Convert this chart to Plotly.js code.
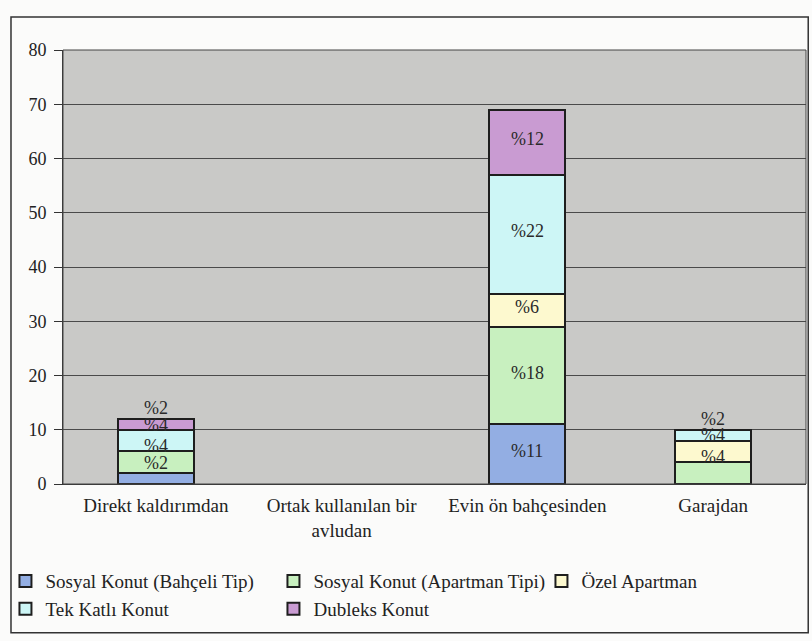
<!DOCTYPE html>
<html>
<head>
<meta charset="utf-8">
<script src="https://cdn.plot.ly/plotly-3.0.1.min.js"></script>
<style>
  html, body { margin: 0; padding: 0; background: #fbfbfa; }
  #chart { width: 812px; height: 641px; }
</style>
</head>
<body>
<div id="chart"></div>
<script>
// Categories (x axis)
const categories = ["Direkt kaldırımdan", "Ortak kullanılan bir<br>avludan", "Evin ön bahçesinden", "Garajdan"];

// Series values
const bahceliTip   = [2, 0, 11, 0];
const apartmanTipi = [4, 0, 18, 4];
const ozelApartman = [0, 0, 6, 4];
const tekKatli     = [4, 0, 22, 2];
const dubleks      = [2, 0, 12, 0];

// Series names
const seriesNames = ["Sosyal Konut (Bahçeli Tip)", "Sosyal Konut (Apartman Tipi)", "Özel Apartman", "Tek Katlı Konut", "Dubleks Konut"];

// Y ticks
const yTicks = [0, 10, 20, 30, 40, 50, 60, 70, 80];

const seriesValues = [bahceliTip, apartmanTipi, ozelApartman, tekKatli, dubleks];
const seriesColors = ["#93aee3", "#c8f0bf", "#fdf9cf", "#cdf6f6", "#c99bd2"];

const FONT = "Liberation Serif, Times New Roman, serif";

const traces = seriesValues.map((vals, i) => ({
  type: "bar",
  name: seriesNames[i],
  x: categories,
  y: vals.map(v => (v === 0 ? null : v)),
  marker: { color: seriesColors[i], line: { color: "#1e1e1e", width: 2 } },
  hoverinfo: "skip"
}));

// Labels computed from data: segment centers
const annotations = [];
categories.forEach((cat, ci) => {
  let base = 0;
  seriesValues.forEach(vals => {
    const v = vals[ci];
    if (v > 0) {
      annotations.push({
        x: cat, y: base + v / 2, xref: "x", yref: "y",
        text: "%" + v, showarrow: false,
        yshift: v < 5 ? 16 : 3,
        font: { family: FONT, size: 18, color: "#2a2a2a" }
      });
    }
    base += v;
  });
});

const layout = {
  width: 812, height: 641,
  margin: { l: 62, r: 6, t: 50, b: 157 },
  paper_bgcolor: "#fbfbfa",
  plot_bgcolor: "#c9c9c7",
  barmode: "stack",
  bargap: 0.59,
  showlegend: true,
  font: { family: FONT, size: 18, color: "#222" },
  xaxis: {
    type: "category",
    tickfont: { family: FONT, size: 19, color: "#222" },
    showgrid: false,
    zeroline: false,
    showline: true, linecolor: "#333", linewidth: 1,
    ticks: "", ticklabelstandoff: 4
  },
  yaxis: {
    range: [0, 80],
    tickvals: yTicks,
    ticktext: yTicks.map(String),
    tickfont: { family: FONT, size: 18, color: "#222" },
    showgrid: true, gridcolor: "#4a4a4a", gridwidth: 1,
    zeroline: false,
    showline: true, linecolor: "#333", linewidth: 1,
    ticks: "outside", ticklen: 8, tickcolor: "#333",
    ticklabelstandoff: 4
  },
  legend: {
    orientation: "h",
    xref: "paper", yref: "paper",
    x: -0.076, y: -0.18, xanchor: "left", yanchor: "top",
    entrywidthmode: "pixels", entrywidth: 223,
    font: { family: FONT, size: 19, color: "#222" },
    bgcolor: "rgba(0,0,0,0)",
    traceorder: "normal"
  },
  annotations: annotations,
  shapes: [
    { type: "rect", xref: "paper", yref: "paper", x0: 0, x1: 1, y0: 0, y1: 1,
      line: { color: "#444", width: 1 }, fillcolor: "rgba(0,0,0,0)", layer: "above" },
    { type: "rect", xref: "paper", yref: "paper", x0: -0.07, x1: 1.003, y0: -0.343, y1: 1.076,
      line: { color: "#333", width: 1.5 }, fillcolor: "rgba(0,0,0,0)", layer: "below" }
  ]
};

Plotly.newPlot("chart", traces, layout, { displayModeBar: false, staticPlot: true });
</script>
</body>
</html>
